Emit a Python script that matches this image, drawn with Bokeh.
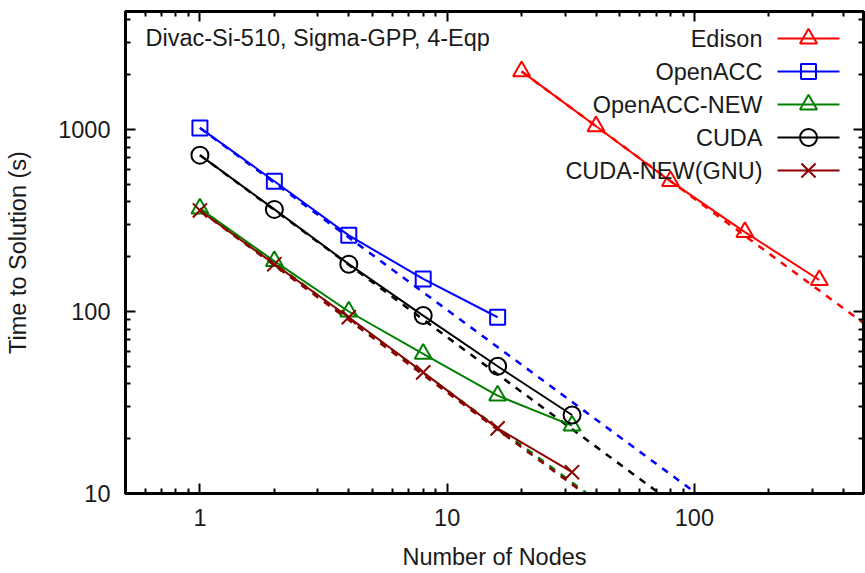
from bokeh.plotting import figure
from bokeh.models import (Range1d, LinearScale, LogAxis, FixedTicker,
                          PrintfTickFormatter, CustomJSTickFormatter)
from bokeh.core.properties import value
from bokeh.embed import file_html
from bokeh.resources import INLINE

FONT = "Liberation Sans"
FONT_SIZE = "23.5px"

# Time to solution (s) against number of nodes
edison_nodes = [20, 40, 80, 160, 320]
edison_time = [2085, 1042, 520, 273, 149]

openacc_nodes = [1, 2, 4, 8, 16]
openacc_time = [1020, 520, 262, 151, 93]

openacc_new_nodes = [1, 2, 4, 8, 16, 32]
openacc_new_time = [368, 189, 100, 58.5, 34.5, 23.6]

cuda_nodes = [1, 2, 4, 8, 16, 32]
cuda_time = [723, 364, 182, 95, 50, 27]

cuda_new_nodes = [1, 2, 4, 8, 16, 32]
cuda_new_time = [359, 182, 93, 46.3, 22.8, 13.1]

series_labels = ["Edison", "OpenACC", "OpenACC-NEW", "CUDA", "CUDA-NEW(GNU)"]
series_nodes = [edison_nodes, openacc_nodes, openacc_new_nodes, cuda_nodes, cuda_new_nodes]
series_times = [edison_time, openacc_time, openacc_new_time, cuda_time, cuda_new_time]
series_colors = ["#ff0000", "#0000ff", "#008000", "#000000", "#8b0000"]
series_markers = ["triangle", "square", "triangle", "circle", "x"]
marker_sizes = {"triangle": 17, "square": 15, "circle": 17, "x": 20}

x_major = [1, 10, 100]
y_major = [10, 100, 1000]

title_text = "Divac-Si-510, Sigma-GPP, 4-Eqp"

# canvas and frame geometry
W, H = 865, 573
BL, BR, BT, BB = 125, 2, 11, 80
FW, FH = W - BL - BR, H - BT - BB

p = figure(width=W, height=H, x_axis_type="log", y_axis_type="log",
           x_range=Range1d(0.5, 483), y_range=Range1d(10, 4450),
           output_backend="svg", toolbar_location=None,
           min_border_left=BL, min_border_right=BR,
           min_border_top=BT, min_border_bottom=BB,
           x_axis_label="Number of Nodes", y_axis_label="Time to Solution (s)")
p.background_fill_color = "white"
p.border_fill_color = "white"
p.grid.visible = False
p.outline_line_color = "black"
p.outline_line_width = 3
p.outline_line_alpha = 1.0

# pixel-space ranges for the in-frame key and caption
p.extra_x_ranges = {"px": Range1d(0, FW)}
p.extra_x_scales = {"px": LinearScale()}
p.extra_y_ranges = {"px": Range1d(0, FH)}
p.extra_y_scales = {"px": LinearScale()}


def minor_list(majors, lo, hi):
    out = []
    for m in [majors[0] / 10] + majors:
        for k in range(2, 10):
            v = m * k
            if lo < v < hi:
                out.append(v)
    return out


def x_ticker():
    return FixedTicker(ticks=x_major, minor_ticks=minor_list(x_major, 0.5, 483))


def y_ticker():
    return FixedTicker(ticks=y_major, minor_ticks=minor_list(y_major, 10, 4450))


def style_axis(ax, ticker, labels=True):
    ax.ticker = ticker
    ax.axis_line_width = 3
    ax.axis_line_color = "black"
    ax.major_tick_in = 10
    ax.major_tick_out = 0
    ax.minor_tick_in = 5
    ax.minor_tick_out = 0
    ax.major_tick_line_width = 2
    ax.minor_tick_line_width = 2
    ax.major_tick_line_color = "black"
    ax.minor_tick_line_color = "black"
    ax.major_label_text_font = FONT
    ax.major_label_text_font_size = FONT_SIZE
    ax.major_label_text_color = "#1a1a1a"
    ax.axis_label_text_font = FONT
    ax.axis_label_text_font_size = FONT_SIZE
    ax.axis_label_text_font_style = "normal"
    ax.axis_label_text_color = "#1a1a1a"
    if labels:
        ax.formatter = PrintfTickFormatter(format="%d")
    else:
        # mirrored axis: ticks only
        ax.formatter = CustomJSTickFormatter(code="return ''")
        ax.major_label_standoff = 0


style_axis(p.xaxis[0], x_ticker())
p.xaxis[0].major_label_standoff = 15
p.xaxis[0].axis_label_standoff = 15
style_axis(p.yaxis[0], y_ticker())
p.yaxis[0].major_label_standoff = 15
p.yaxis[0].axis_label_standoff = 24

top_axis = LogAxis()
style_axis(top_axis, x_ticker(), labels=False)
p.add_layout(top_axis, "above")
right_axis = LogAxis()
style_axis(right_axis, y_ticker(), labels=False)
p.add_layout(right_axis, "right")

# ideal-scaling guides (time halves as nodes double) from each first point
for nodes, times, color in zip(series_nodes, series_times, series_colors):
    n0, t0 = nodes[0], times[0]
    xs = [n0, 2000]
    ys = [t0, t0 * n0 / 2000]
    p.line(xs, ys, line_color=color, line_width=2.5, line_dash="7 7")

# measured series
for nodes, times, color, marker in zip(series_nodes, series_times, series_colors, series_markers):
    p.line(nodes, times, line_color=color, line_width=2)
    p.scatter(nodes, times, marker=marker, size=marker_sizes[marker],
              line_color=color, line_width=2, fill_color=None)

# caption in the upper-left corner
p.text(x=[20], y=[FH - 26], text=[title_text], text_font=value(FONT),
       text_font_size=FONT_SIZE, text_color="#1a1a1a", text_align="left",
       text_baseline="middle", x_range_name="px", y_range_name="px")

# key: right-aligned names followed by line-and-marker samples
key_text_x = 637
key_x0, key_x1 = 652, 714
key_top = FH - 27
key_step = 33
for i, (label, color, marker) in enumerate(zip(series_labels, series_colors, series_markers)):
    ky = key_top - i * key_step
    p.text(x=[key_text_x], y=[ky], text=[label], text_font=value(FONT),
           text_font_size=FONT_SIZE, text_color="#1a1a1a", text_align="right",
           text_baseline="middle", x_range_name="px", y_range_name="px")
    p.line([key_x0, key_x1], [ky, ky], line_color=color, line_width=2,
           x_range_name="px", y_range_name="px")
    p.scatter([(key_x0 + key_x1) / 2], [ky], marker=marker, size=marker_sizes[marker],
              line_color=color, line_width=2, fill_color=None,
              x_range_name="px", y_range_name="px")

open("out.html", "w").write(file_html(p, INLINE))
